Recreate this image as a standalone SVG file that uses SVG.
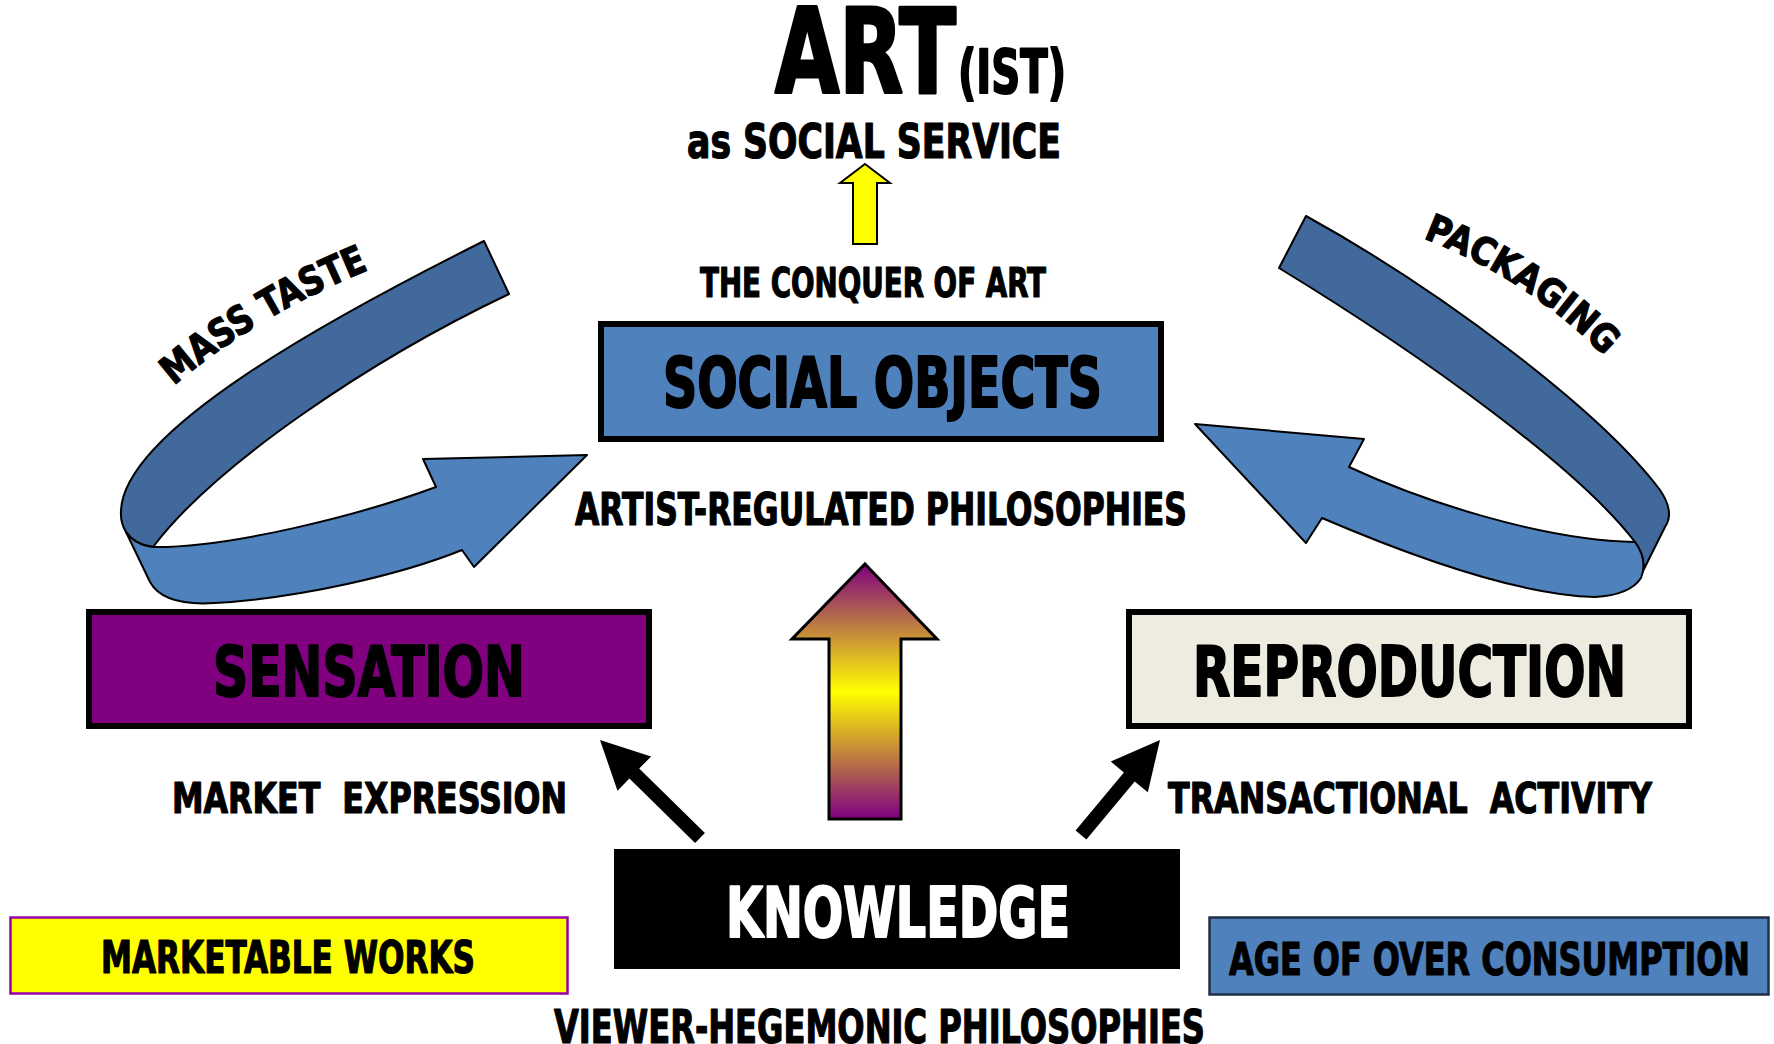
<svg xmlns="http://www.w3.org/2000/svg" width="1774" height="1044" viewBox="0 0 1774 1044">
<defs>
<style>
.t{font-family:"DejaVu Sans Condensed","DejaVu Sans","Liberation Sans",sans-serif;font-weight:bold;fill:#000;stroke:#000;stroke-width:1.2;stroke-linejoin:round}
.big{stroke-width:2}
.huge{stroke-width:3}
.w{fill:#fff;stroke:#fff}
.box{stroke:#000;stroke-width:6}
.rib{stroke:#000;stroke-width:2;stroke-linejoin:round}
.dark{fill:#42699B}
.light{fill:#4F81BD}
.pre{white-space:pre}
</style>
<linearGradient id="grad" x1="0" y1="0" x2="0" y2="1">
<stop offset="0" stop-color="#800080"/>
<stop offset="0.5" stop-color="#FFFF00"/>
<stop offset="1" stop-color="#800080"/>
</linearGradient>
<path id="pMass" d="M174,386 Q252,318 368,270"/>
<path id="pPack" d="M1423,238 Q1530,280 1604,356"/>
</defs>
<rect width="1774" height="1044" fill="#fff"/>

<g id="title">
<text class="t huge" x="775" y="93" font-size="117" textLength="181" lengthAdjust="spacingAndGlyphs">ART</text>
<text class="t big" x="958" y="93" font-size="60" textLength="108" lengthAdjust="spacingAndGlyphs">(IST)</text>
<text class="t" x="687" y="158" font-size="48" textLength="374" lengthAdjust="spacingAndGlyphs">as SOCIAL SERVICE</text>
</g>

<g id="connectors">
<polygon id="yellow-arrow" points="865,164 890,183 877,183 877,244 853,244 853,183 840,183" fill="#FFFF00" stroke="#000" stroke-width="2"/>
<polygon id="center-arrow" points="865,564 937,639 901,639 901,819 829,819 829,639 792,639" fill="url(#grad)" stroke="#000" stroke-width="3"/>
<polygon id="arrow-left" points="600,740 651.1,756.5 639.2,768.6 704.9,833 695.1,843 629.4,778.6 617.5,790.7" fill="#000"/>
<polygon id="arrow-right" points="1160,740 1147.8,792.2 1134.7,781.4 1086.4,839.5 1075.6,830.5 1123.9,772.4 1110.8,761.6" fill="#000"/>
<g id="curve-left">
<path class="rib dark" d="M484,241 C330,318 125,430 121,510 Q120,522 126,532 Q135,545 153,547 C215,465 370,360 509,294 Z"/>
<path class="rib light" d="M126,532 L150,582 C160,600 185,605 215,603 C300,598 400,575 462,550 L474,567 L587,455 L423,459 L436,487 C360,515 230,548 153,547 Q135,545 126,532 Z"/>
</g>
<g id="curve-right">
<path class="rib dark" d="M1306,216 C1440,290 1600,410 1660,490 Q1675,512 1665,527 L1641,575 Q1648,560 1635,542 C1580,470 1430,360 1279,268 Z"/>
<path class="rib light" d="M1635,542 Q1648,560 1641,578 Q1630,595 1595,597 C1520,595 1420,560 1322,518 L1306,543 L1195,424 L1364,439 L1349,467 C1420,500 1540,540 1635,542 Z"/>
</g>
</g>

<g id="labels">
<text class="t" x="700" y="297" font-size="41" textLength="346" lengthAdjust="spacingAndGlyphs">THE CONQUER OF ART</text>
<text class="t" x="575" y="525" font-size="44" textLength="612" lengthAdjust="spacingAndGlyphs">ARTIST-REGULATED PHILOSOPHIES</text>
<text class="t pre" x="172" y="813" font-size="43" textLength="395" lengthAdjust="spacingAndGlyphs">MARKET  EXPRESSION</text>
<text class="t pre" x="1168" y="813" font-size="43" textLength="484" lengthAdjust="spacingAndGlyphs">TRANSACTIONAL  ACTIVITY</text>
<text class="t" x="554" y="1043" font-size="47" textLength="651" lengthAdjust="spacingAndGlyphs">VIEWER-HEGEMONIC PHILOSOPHIES</text>
<text class="t" font-size="39"><textPath href="#pMass" textLength="228" lengthAdjust="spacingAndGlyphs">MASS TASTE</textPath></text>
<text class="t" font-size="38"><textPath href="#pPack" textLength="218" lengthAdjust="spacingAndGlyphs">PACKAGING</textPath></text>
</g>

<g id="social-objects">
<rect class="box" x="601" y="324" width="560" height="115" fill="#4F81BD"/>
<text class="t big" x="663" y="407" font-size="69" textLength="439" lengthAdjust="spacingAndGlyphs">SOCIAL OBJECTS</text>
</g>

<g id="sensation">
<rect class="box" x="89" y="612" width="560" height="114" fill="#800080"/>
<text class="t big" x="213" y="696" font-size="70" textLength="312" lengthAdjust="spacingAndGlyphs">SENSATION</text>
</g>

<g id="reproduction">
<rect class="box" x="1129" y="612" width="560" height="114" fill="#EEECE1"/>
<text class="t big" x="1193" y="696" font-size="70" textLength="433" lengthAdjust="spacingAndGlyphs">REPRODUCTION</text>
</g>

<g id="knowledge">
<rect x="614" y="849" width="566" height="120" fill="#000"/>
<text class="t big w" x="726" y="937" font-size="69" textLength="344" lengthAdjust="spacingAndGlyphs">KNOWLEDGE</text>
</g>

<g id="marketable-works">
<rect x="10.5" y="917.5" width="557" height="76" fill="#FFFF00" stroke="#9900AA" stroke-width="2.5"/>
<text class="t" x="101" y="973" font-size="44" textLength="374" lengthAdjust="spacingAndGlyphs">MARKETABLE WORKS</text>
</g>

<g id="age-of-over-consumption">
<rect x="1209.5" y="917.5" width="559" height="77" fill="#4F81BD" stroke="#1F2F45" stroke-width="2.5"/>
<text class="t" x="1229" y="975" font-size="45" textLength="521" lengthAdjust="spacingAndGlyphs">AGE OF OVER CONSUMPTION</text>
</g>
</svg>
